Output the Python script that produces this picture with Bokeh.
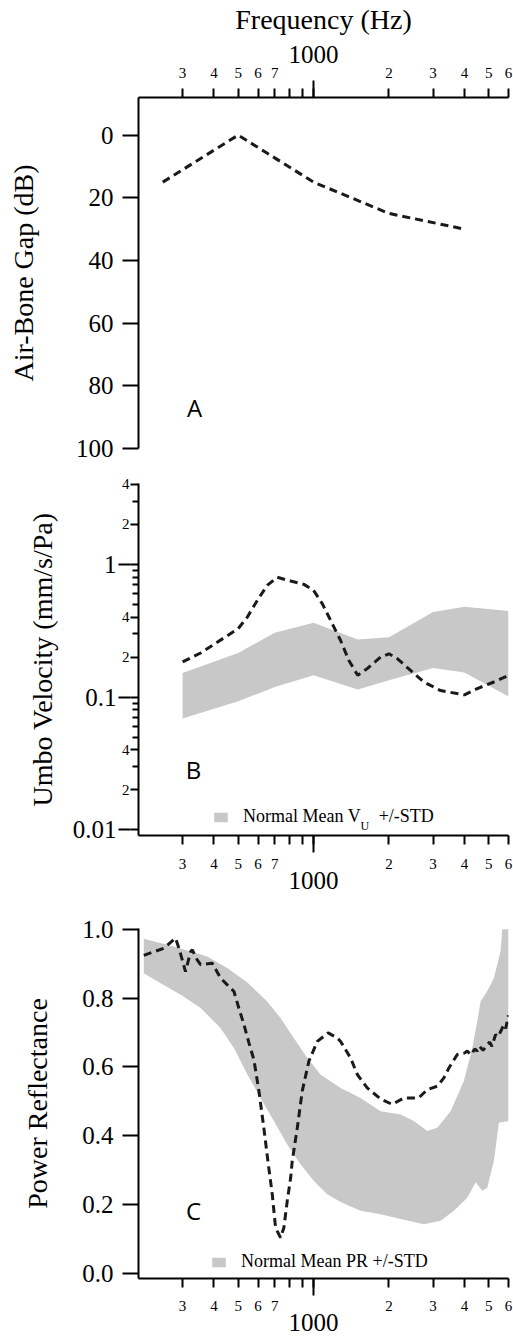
from bokeh.plotting import figure
from bokeh.layouts import column
from bokeh.models import (LogAxis, FixedTicker, Range1d, Legend, LegendItem,
                          Label, PrintfTickFormatter)
from bokeh.embed import file_html
from bokeh.resources import INLINE

# ---------------- data ----------------
# frequency axis ticks (Hz) and their short labels
freq_ticks = [300, 400, 500, 600, 700, 800, 900, 2000, 3000, 4000, 5000, 6000]
freq_tick_labels = ["3", "4", "5", "6", "7", "", "", "2", "3", "4", "5", "6"]

# A: air-bone gap
abg_freq = [250, 500, 1000, 2000, 4000]
abg_db = [15, 0, 15, 25, 30]
abg_ticks = [0, 20, 40, 60, 80, 100]

# B: umbo velocity of the patient ear
vu_freq = [300, 354, 500, 544, 596, 653, 716, 810, 915, 1000, 1083, 1169, 1282,
           1383, 1500, 1638, 1851, 2000, 2158, 2439, 2756, 3214, 4000, 4504, 5246, 6000]
vu = [0.184, 0.215, 0.328, 0.401, 0.535, 0.695, 0.80, 0.749, 0.707, 0.637, 0.506,
      0.379, 0.267, 0.189, 0.146, 0.164, 0.200, 0.212, 0.195, 0.159, 0.130, 0.112,
      0.104, 0.116, 0.130, 0.146]

# B: normal mean umbo velocity +/- one standard deviation
vu_norm_freq = [300, 500, 700, 1000, 1500, 2000, 3000, 4000, 6000]
vu_norm_hi = [0.152, 0.215, 0.306, 0.363, 0.272, 0.282, 0.437, 0.480, 0.445]
vu_norm_lo = [0.069, 0.093, 0.119, 0.146, 0.114, 0.134, 0.166, 0.153, 0.101]

# B: velocity axis ticks
vu_decades = [0.01, 0.1, 1]
vu_decade_labels = ["0.01", "0.1", "1"]
vu_labeled = [0.02, 0.04, 0.2, 0.4, 2, 4]
vu_labeled_text = ["2", "4", "2", "4", "2", "4"]
vu_unlabeled = [0.03, 0.05, 0.06, 0.07, 0.08, 0.09,
                0.3, 0.5, 0.6, 0.7, 0.8, 0.9, 3]

# C: power reflectance of the patient ear
pr_freq = [210, 253, 281, 290, 299, 308, 323, 328, 343, 354, 394, 425, 481, 503,
           527, 552, 578, 605, 633, 657, 684, 705, 738, 761, 785, 810, 822, 861,
           901, 958, 1035, 1143, 1243, 1282, 1405, 1495, 1638, 1851, 2062, 2294,
           2626, 2844, 3117, 3313, 3469, 3748, 4000, 4108, 4250, 4400, 4504, 4600,
           4750, 4936, 5050, 5150, 5329, 5450, 5600, 5750, 5850, 6000]
pr = [0.924, 0.945, 0.974, 0.945, 0.911, 0.877, 0.935, 0.940, 0.911, 0.897, 0.901,
      0.858, 0.819, 0.771, 0.723, 0.670, 0.620, 0.530, 0.423, 0.327, 0.230, 0.133,
      0.104, 0.133, 0.211, 0.278, 0.327, 0.423, 0.530, 0.617, 0.674, 0.699, 0.684,
      0.674, 0.626, 0.578, 0.539, 0.507, 0.491, 0.510, 0.510, 0.534, 0.544, 0.568,
      0.597, 0.636, 0.640, 0.646, 0.635, 0.652, 0.646, 0.660, 0.648, 0.665, 0.672,
      0.660, 0.694, 0.688, 0.705, 0.723, 0.712, 0.750]

# C: normal mean power reflectance +/- one standard deviation
pr_hi_freq = [210, 277, 376, 452, 544, 653, 738, 834, 944, 1066, 1282, 1540, 1851,
              2225, 2514, 2844, 3117, 3524, 3981, 4301, 4504, 4642, 4936, 5246,
              5578, 5666, 6000]
pr_hi = [0.972, 0.950, 0.921, 0.887, 0.845, 0.790, 0.742, 0.684, 0.626, 0.578,
         0.539, 0.510, 0.471, 0.462, 0.443, 0.414, 0.423, 0.471, 0.559, 0.655,
         0.733, 0.790, 0.820, 0.858, 0.935, 1.0, 1.0]
pr_lo_freq = [210, 245, 294, 354, 425, 481, 544, 614, 694, 785, 887, 1003, 1134,
              1282, 1540, 1851, 2225, 2756, 3214, 3633, 4108, 4436, 4715, 4936,
              5246, 5492, 6000]
pr_lo = [0.872, 0.843, 0.810, 0.771, 0.713, 0.655, 0.578, 0.510, 0.443, 0.375,
         0.317, 0.269, 0.230, 0.208, 0.182, 0.172, 0.158, 0.143, 0.153, 0.182,
         0.220, 0.265, 0.240, 0.249, 0.327, 0.438, 0.443]
pr_ticks = [0.0, 0.2, 0.4, 0.6, 0.8, 1.0]

# ---------------- styling ----------------
SERIF = "Liberation Serif"
SANS = "Open Sans"
BAND = "#c8c8c8"
INK = "#1a1a1a"
FRAME_W = 370
LEFT, RIGHT = 138, 5


def base_style(p):
    p.outline_line_color = None
    p.xgrid.visible = False
    p.ygrid.visible = False
    p.background_fill_color = "white"
    p.border_fill_color = "white"


def axis_style(ax, size):
    ax.axis_line_width = 2
    ax.axis_line_color = "black"
    ax.major_tick_line_width = 2
    ax.minor_tick_line_width = 2
    ax.major_tick_line_color = "black"
    ax.minor_tick_line_color = "black"
    ax.major_tick_in = 0
    ax.minor_tick_in = 0
    ax.major_label_text_font = SERIF
    ax.major_label_text_font_size = size
    ax.major_label_text_color = "black"
    ax.axis_label_text_font = SERIF
    ax.axis_label_text_font_size = "28px"
    ax.axis_label_text_font_style = "normal"
    ax.axis_label_text_color = "black"


def frequency_axes(p, side, inner_standoff, outer_standoff, title=None):
    inner = p.above[0] if side == "above" else p.below[0]
    axis_style(inner, "15px")
    inner.ticker = FixedTicker(ticks=freq_ticks + [1000], minor_ticks=[1000])
    overrides = dict(zip(freq_ticks, freq_tick_labels))
    overrides[1000] = ""
    inner.major_label_overrides = overrides
    inner.major_tick_out = 9
    inner.minor_tick_out = 17
    inner.major_label_standoff = inner_standoff

    outer = LogAxis(ticker=FixedTicker(ticks=[1000], minor_ticks=[]))
    axis_style(outer, "25px")
    outer.major_label_overrides = {1000: "1000"}
    outer.axis_line_color = None
    outer.major_tick_line_color = None
    outer.minor_tick_line_color = None
    outer.major_tick_out = 0
    outer.major_label_standoff = outer_standoff
    if title:
        outer.axis_label = title
        outer.axis_label_standoff = 8
    p.add_layout(outer, side)


def panel_letter(p, text, x, y):
    p.add_layout(Label(x=x, y=y, x_units="screen", y_units="screen", text=text,
                       text_font=SANS, text_font_size="24px", text_color="black",
                       text_align="center", text_baseline="middle"))


def band_legend(p, band, text, loc):
    leg = Legend(items=[LegendItem(label=text, renderers=[band])], location=loc,
                 orientation="vertical", padding=0, margin=0, spacing=0,
                 glyph_width=17, glyph_height=12, label_standoff=14,
                 label_text_font=SERIF, label_text_font_size="18px",
                 label_text_color="black", label_height=12,
                 background_fill_alpha=0, border_line_color=None)
    p.add_layout(leg)
    return leg


# ---------------- A: air-bone gap ----------------
p_a = figure(x_axis_type="log", x_range=Range1d(200, 6000), y_range=Range1d(100, -12),
             x_axis_location="above", frame_width=FRAME_W, frame_height=351,
             min_border_left=LEFT, min_border_right=RIGHT, min_border_top=97,
             min_border_bottom=20, output_backend="svg", toolbar_location=None)
base_style(p_a)
frequency_axes(p_a, "above", 3, 2, "Frequency (Hz)")
ya = p_a.yaxis[0]
axis_style(ya, "25px")
ya.ticker = FixedTicker(ticks=abg_ticks, minor_ticks=[])
ya.major_tick_out = 16
ya.major_label_standoff = 9
ya.axis_label = "Air-Bone Gap (dB)"
ya.axis_label_standoff = 34
p_a.line(abg_freq, abg_db, line_color=INK, line_width=3, line_dash="8 5")
panel_letter(p_a, "A", 56, 41)

# ---------------- B: umbo velocity ----------------
p_b = figure(x_axis_type="log", y_axis_type="log", x_range=Range1d(200, 6000),
             y_range=Range1d(0.00906, 4.07), frame_width=FRAME_W, frame_height=352,
             min_border_left=LEFT, min_border_right=RIGHT, min_border_top=15,
             min_border_bottom=65, output_backend="svg", toolbar_location=None)
base_style(p_b)
frequency_axes(p_b, "below", 6, 0)
yb = p_b.yaxis[0]
axis_style(yb, "15px")
yb.ticker = FixedTicker(ticks=vu_labeled + vu_decades, minor_ticks=vu_unlabeled)
yb_over = dict(zip(vu_labeled, vu_labeled_text))
yb_over.update({d: "" for d in vu_decades})
yb.major_label_overrides = yb_over
yb.major_tick_out = 8
yb.minor_tick_out = 6
yb.major_label_standoff = 1
yb_outer = LogAxis(ticker=FixedTicker(ticks=vu_decades, minor_ticks=[]))
axis_style(yb_outer, "25px")
yb_outer.major_label_overrides = dict(zip(vu_decades, vu_decade_labels))
yb_outer.axis_line_color = None
yb_outer.major_tick_out = 0
yb_outer.major_tick_in = 12
yb_outer.major_label_standoff = 2
yb_outer.axis_label = "Umbo Velocity (mm/s/Pa)"
yb_outer.axis_label_standoff = 12
p_b.add_layout(yb_outer, "left")

band_b = p_b.patch(vu_norm_freq + vu_norm_freq[::-1], vu_norm_hi + vu_norm_lo[::-1],
                   fill_color=BAND, line_color=None)
p_b.line(vu_freq, vu, line_color=INK, line_width=3, line_dash="8 5")
band_legend(p_b, band_b, "Normal Mean V\u00a0\u00a0\u00a0\u00a0+/-STD", (74, 8))
p_b.add_layout(Label(x=222, y=10, x_units="screen", y_units="screen", text="U",
                     text_font=SERIF, text_font_size="12px", text_color="black",
                     text_baseline="alphabetic"))
panel_letter(p_b, "B", 55, 66)

# ---------------- C: power reflectance ----------------
p_c = figure(x_axis_type="log", x_range=Range1d(200, 6000),
             y_range=Range1d(-0.0145, 1.002), frame_width=FRAME_W, frame_height=350,
             min_border_left=LEFT, min_border_right=RIGHT, min_border_top=28,
             min_border_bottom=61, output_backend="svg", toolbar_location=None)
base_style(p_c)
frequency_axes(p_c, "below", 5, 0)
yc = p_c.yaxis[0]
axis_style(yc, "25px")
yc.ticker = FixedTicker(ticks=pr_ticks, minor_ticks=[])
yc.formatter = PrintfTickFormatter(format="%.1f")
yc.major_tick_out = 16
yc.major_label_standoff = 9
yc.axis_label = "Power Reflectance"
yc.axis_label_standoff = 26

band_c = p_c.patch(pr_hi_freq + pr_lo_freq[::-1], pr_hi + pr_lo[::-1],
                   fill_color=BAND, line_color=None)
p_c.line(pr_freq, pr, line_color=INK, line_width=3, line_dash="8 5")
band_legend(p_c, band_c, "Normal Mean PR +/-STD", (72, 6))
panel_letter(p_c, "C", 55, 68)

layout = column(p_a, p_b, p_c, spacing=0)
open("out.html", "w").write(file_html(layout, INLINE))
